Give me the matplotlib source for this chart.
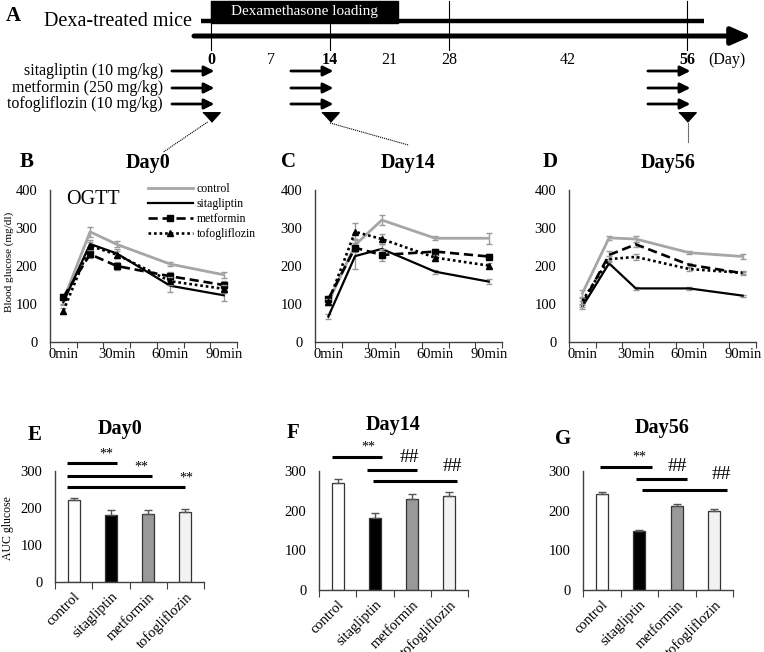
import matplotlib
matplotlib.use("Agg")
import matplotlib.pyplot as plt
import numpy as np
from matplotlib.lines import Line2D
from matplotlib.patches import Rectangle

plt.rcParams["font.family"] = ["Liberation Serif", "DejaVu Serif"]

# ---------------- data ----------------
timeMin = [0, 15, 30, 60, 90]
timeLabels = ["0min", "30min", "60min", "90min"]
groupNames = ["control", "sitagliptin", "metformin", "tofogliflozin"]

# OGTT blood glucose (mg/dl), Day0
d0Control = [110, 290, 257, 205, 177]
d0ControlErr = [10, 13, 8, 5, 8]
d0Sita = [105, 258, 233, 148, 123]
d0SitaErr = [8, 10, 12, 16, 14]
d0Met = [118, 231, 200, 173, 150]
d0MetErr = [8, 10, 10, 12, 10]
d0Tofo = [82, 253, 230, 160, 140]
d0TofoErr = [8, 10, 10, 10, 10]

# Day14
d14Control = [105, 255, 321, 273, 273]
d14ControlErr = [8, 15, 13, 5, 15]
d14Sita = [67, 226, 245, 185, 159]
d14SitaErr = [7, 35, 12, 5, 7]
d14Met = [113, 248, 229, 238, 225]
d14MetErr = [8, 12, 15, 8, 7]
d14Tofo = [105, 290, 271, 222, 201]
d14TofoErr = [8, 22, 12, 8, 6]

# Day56
d56Control = [128, 274, 271, 235, 225]
d56ControlErr = [10, 5, 8, 4, 6]
d56Sita = [93, 207, 141, 141, 122]
d56SitaErr = [5, 5, 3, 3, 3]
d56Met = [100, 229, 257, 203, 181]
d56MetErr = [8, 10, 6, 5, 4]
d56Tofo = [108, 218, 224, 192, 182]
d56TofoErr = [8, 8, 8, 6, 4]

# AUC glucose
aucDay0 = [222, 182, 184, 188]
aucDay0Err = [5, 13, 10, 10]
aucDay14 = [269, 182, 229, 238]
aucDay14Err = [10, 13, 12, 10]
aucDay56 = [243, 149, 212, 199]
aucDay56Err = [5, 3, 4, 6]

# schedule (days)
scheduleDays = [0, 7, 14, 21, 28, 42, 56]
boldDays = [0, 14, 56]
gridDays = [0, 14, 28, 56]
dexaStart = 0
dexaEnd = 22
observeEnd = 58
drugLabels = ["sitagliptin (10 mg/kg)", "metformin (250 mg/kg)", "tofogliflozin (10 mg/kg)"]
dosingDays = [0, 14, 56]
ogttDays = [0, 14, 56]

W, H = 764, 652
fig = plt.figure(figsize=(W / 100, H / 100), dpi=100)


def PixelAxes(left, top, right, bottom):
    return fig.add_axes([left / W, 1 - bottom / H, (right - left) / W, (bottom - top) / H])


def PixelText(x, y, text, **kw):
    fig.text(x / W, 1 - y / H, text, **kw)


# ---------------- panel A: schedule ----------------
axA = PixelAxes(0, 0, W, 160)
axA.set_xlim((0 - 211) / 8.5, (W - 211) / 8.5)
axA.set_ylim(160, 0)
axA.axis("off")

for d in gridDays:
    axA.plot([d, d], [1, 50], color="black", lw=0.8)
axA.plot([-1.2, observeEnd], [21, 21], color="black", lw=3.2, solid_capstyle="butt")
axA.add_patch(Rectangle((dexaStart, 1), dexaEnd - dexaStart, 22, color="black"))
axA.text((dexaStart + dexaEnd) / 2, 12, "Dexamethasone loading", color="white",
         ha="center", va="center", fontsize=11)
axA.text(-2.2, 22, "Dexa-treated mice", ha="right", va="center", fontsize=14.5)
axA.annotate("", xy=(63.6, 36), xytext=(-2.0, 36),
             arrowprops=dict(arrowstyle="-|>,head_length=0.8,head_width=0.35",
                             lw=3.6, color="black", shrinkA=0, shrinkB=0,
                             mutation_scale=15))
for d in scheduleDays:
    axA.text(d, 60, str(d), ha="center", va="center", fontsize=11.5,
             fontweight="bold" if d in boldDays else "normal")
axA.text(60.7, 60, "(Day)", ha="center", va="center", fontsize=11.5)

rowY = [71, 88, 104]
for label, y in zip(drugLabels, rowY):
    axA.text(-5.65, y, label, ha="right", va="center", fontsize=11.5)
    for d in dosingDays:
        axA.annotate("", xy=(d + 0.4, y), xytext=(d - 4.6, y),
                     arrowprops=dict(arrowstyle="-|>,head_length=0.6,head_width=0.3",
                                     lw=2.0, color="black", shrinkA=0, shrinkB=0,
                                     mutation_scale=10))

triMarker = [(-1, 0.55), (1, 0.55), (0, -0.55)]
axA.plot(ogttDays, [117] * len(ogttDays), linestyle="none", marker=triMarker,
         markersize=12.5, color="black")
axA.plot([ogttDays[0] - 0.4, -5.6], [122, 152], color="black", lw=0.8, ls=(0, (1, 0.8)))
axA.plot([ogttDays[1], 23.2], [123, 145], color="black", lw=0.8, ls=(0, (1, 0.8)))
axA.plot([ogttDays[2] + 0.1, ogttDays[2] + 0.1], [123, 143], color="black", lw=0.8, ls=(0, (1, 0.8)))
PixelText(13, 16, "A", ha="center", va="center", fontsize=15, fontweight="bold")


# ---------------- OGTT panels ----------------
def StyleSpines(ax):
    for side in ["top", "right"]:
        ax.spines[side].set_visible(False)
    for side in ["left", "bottom"]:
        ax.spines[side].set_color("#404040")
        ax.spines[side].set_linewidth(1.0)


def DrawOgtt(ax, series, errors, showMarkers):
    colorList = ["#a6a6a6", "black", "black", "black"]
    styleList = ["-", "-", (0, (3.5, 1.8)), (0, (1, 1.1))]
    widthList = [2.0, 1.6, 1.9, 1.9]
    markerList = [None, None, "s", "^"]
    handles = []
    for i, (vals, errs) in enumerate(zip(series, errors)):
        ax.errorbar(timeMin, vals, yerr=errs, fmt="none", ecolor="#999999",
                    elinewidth=1.0, capsize=2.5, capthick=1.0)
        line, = ax.plot(timeMin, vals, color=colorList[i], ls=styleList[i],
                        lw=widthList[i], marker=markerList[i] if showMarkers else None,
                        markersize=5, label=groupNames[i])
        handles.append(line)
    ax.set_xlim(-7.5, 97.5)
    ax.set_ylim(0, 400)
    ax.set_yticks([0, 100, 200, 300, 400])
    ax.set_xticks(np.arange(-7.5, 98, 15))
    ax.set_xticklabels([])
    ax.set_xticks([0, 30, 60, 90], minor=True)
    ax.set_xticklabels(timeLabels, minor=True)
    ax.tick_params(axis="x", which="major", length=4, direction="out", color="#404040")
    ax.tick_params(axis="x", which="minor", length=0, pad=4, labelsize=10.5)
    ax.tick_params(axis="y", length=0, pad=9, labelsize=10.5)
    StyleSpines(ax)
    return handles


axB = PixelAxes(50, 190, 237, 342)
hB = DrawOgtt(axB, [d0Control, d0Sita, d0Met, d0Tofo],
              [d0ControlErr, d0SitaErr, d0MetErr, d0TofoErr], True)
axC = PixelAxes(315, 190, 502, 342)
DrawOgtt(axC, [d14Control, d14Sita, d14Met, d14Tofo],
         [d14ControlErr, d14SitaErr, d14MetErr, d14TofoErr], True)
axD = PixelAxes(569, 190, 756, 342)
DrawOgtt(axD, [d56Control, d56Sita, d56Met, d56Tofo],
         [d56ControlErr, d56SitaErr, d56MetErr, d56TofoErr], False)

axB.legend(handles=hB, loc="upper left", bbox_to_anchor=(148 / W, 1 - 183 / H),
           bbox_transform=fig.transFigure, frameon=False, fontsize=8.5,
           handlelength=3.8, handletextpad=0.3, labelspacing=0.25,
           borderpad=0, borderaxespad=0)
PixelText(93, 199, "OGTT", ha="center", va="center", fontsize=14.5)
PixelText(9, 262, "Blood glucose (mg/dl)", ha="center", va="center", rotation=90, fontsize=8)

for letter, lx, title, tx in [("B", 27, "Day0", 148), ("C", 288, "Day14", 408), ("D", 550, "Day56", 668)]:
    PixelText(lx, 162, letter, ha="center", va="center", fontsize=15, fontweight="bold")
    PixelText(tx, 163, title, ha="center", va="center", fontsize=14.5, fontweight="bold")


# ---------------- AUC panels ----------------
def DrawAuc(ax, vals, errs, lines, marks):
    barColors = ["white", "black", "#999999", "#f2f2f2"]
    xs = np.arange(len(vals))
    ax.bar(xs, vals, width=0.32, color=barColors, edgecolor="#333333", linewidth=0.9)
    ax.errorbar(xs, vals, yerr=[np.zeros(len(errs)), errs], fmt="none", ecolor="#555555",
                elinewidth=1.0, capsize=3, capthick=1.0)
    ax.set_xlim(-0.5, 3.5)
    ax.set_ylim(0, 300)
    ax.set_yticks([0, 100, 200, 300])
    ax.set_xticks([-0.5, 0.5, 1.5, 2.5, 3.5])
    ax.set_xticklabels([])
    ax.set_xticks(xs, minor=True)
    ax.set_xticklabels(groupNames, minor=True, rotation=45, ha="right", rotation_mode="anchor")
    ax.tick_params(axis="x", which="major", length=5, direction="out", color="#404040")
    ax.tick_params(axis="x", which="minor", length=0, pad=6, labelsize=10.5)
    ax.tick_params(axis="y", length=0, pad=9, labelsize=10.5)
    StyleSpines(ax)
    for x0, x1, y in lines:
        ax.plot([x0, x1], [y, y], color="black", lw=2.2, clip_on=False, solid_capstyle="butt")
    for x, y, s in marks:
        ax.text(x, y, s, ha="center", va="center", fontsize=10 if s == "**" else 14, clip_on=False)


axE = PixelAxes(55, 471, 204, 582)
DrawAuc(axE, aucDay0, aucDay0Err,
        [(-0.18, 1.16, 322), (-0.18, 2.1, 287), (-0.18, 2.99, 257)],
        [(0.87, 345, "**"), (1.81, 312, "**"), (3.02, 280, "**")])
axF = PixelAxes(319, 471, 468, 590)
DrawAuc(axF, aucDay14, aucDay14Err,
        [(-0.15, 1.19, 335), (0.79, 2.13, 302), (0.95, 3.2, 274)],
        [(0.82, 360, "**"), (1.92, 335, "##"), (3.07, 312, "##")])
axG = PixelAxes(583, 471, 733, 590)
DrawAuc(axG, aucDay56, aucDay56Err,
        [(-0.04, 1.33, 310), (0.9, 2.27, 280), (1.08, 3.34, 252)],
        [(1.0, 335, "**"), (2.02, 312, "##"), (3.18, 290, "##")])

PixelText(8, 528, "AUC glucose", ha="center", va="center", rotation=90, fontsize=8.5)
for letter, lx, ly, title, tx, ty in [("E", 35, 435, "Day0", 120, 429),
                                      ("F", 293, 433, "Day14", 393, 425),
                                      ("G", 563, 439, "Day56", 662, 428)]:
    PixelText(lx, ly, letter, ha="center", va="center", fontsize=15, fontweight="bold")
    PixelText(tx, ty, title, ha="center", va="center", fontsize=14.5, fontweight="bold")

fig.savefig("out.png", dpi=100)
